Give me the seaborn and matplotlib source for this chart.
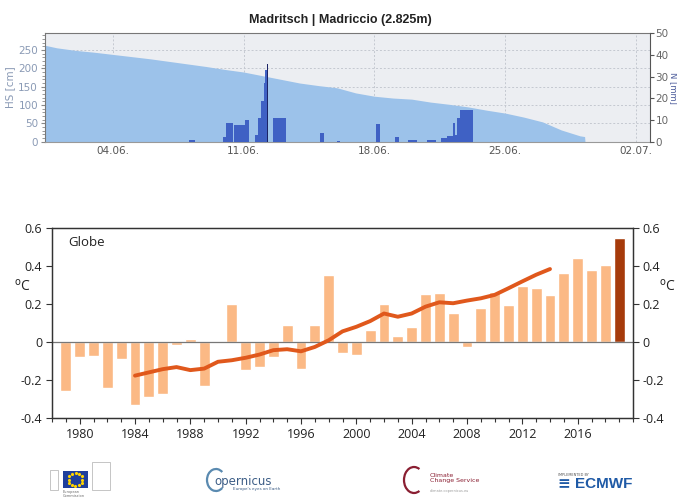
import numpy as np
import pandas as pd
import matplotlib
matplotlib.use("Agg")
import matplotlib.pyplot as plt
import matplotlib.ticker as mticker
import matplotlib.dates as mdates
from matplotlib.patches import Rectangle, Arc
import seaborn as sns

# --------------------------- top panel data (Madritsch station, June 2019) ---------------------------
hs_time = ["2019-05-31 00:00"] + ["2019-06-%02d 00:00" % d for d in range(1, 30)] + \
          ["2019-06-29 06:00", "2019-06-29 06:30"]
hs_cm = [267, 256, 249, 244, 238, 232, 226, 219, 212, 205, 197, 190, 180, 170, 160, 153,
         147, 133, 124, 119, 116, 108, 102, 95, 86, 78, 67, 54, 32, 16, 14, 0]

precip_start = ["2019-06-08 02:00", "2019-06-09 21:00", "2019-06-10 02:00", "2019-06-10 12:00",
                "2019-06-11 02:00", "2019-06-11 15:00", "2019-06-11 19:00", "2019-06-11 22:00",
                "2019-06-12 02:00", "2019-06-12 04:00", "2019-06-12 06:00", "2019-06-12 14:00",
                "2019-06-15 02:00", "2019-06-16 00:00", "2019-06-18 02:00", "2019-06-19 02:00",
                "2019-06-19 19:00", "2019-06-20 19:00", "2019-06-21 14:00", "2019-06-21 21:00",
                "2019-06-22 05:00", "2019-06-22 07:00", "2019-06-22 10:00", "2019-06-22 14:00"]
precip_end = ["2019-06-08 10:00", "2019-06-10 02:00", "2019-06-10 10:00", "2019-06-11 02:00",
              "2019-06-11 07:00", "2019-06-11 19:00", "2019-06-11 22:00", "2019-06-12 02:00",
              "2019-06-12 04:00", "2019-06-12 06:00", "2019-06-12 08:00", "2019-06-13 07:00",
              "2019-06-15 07:00", "2019-06-16 04:00", "2019-06-18 07:00", "2019-06-19 07:00",
              "2019-06-20 07:00", "2019-06-21 07:00", "2019-06-21 21:00", "2019-06-22 05:00",
              "2019-06-22 07:00", "2019-06-22 10:00", "2019-06-22 14:00", "2019-06-23 07:00"]
precip_mm = [0.6, 2, 8.6, 7.7, 10, 3, 11, 19, 27, 33, 36, 11,
             4, 0.5, 8, 2, 1, 1, 1.8, 2.6, 8.6, 3, 11, 14.6]

# --------------------------- bottom panel data (global temperature anomaly) ---------------------------
years = list(range(1979, 2020))
anomaly = [-0.256, -0.078, -0.073, -0.243, -0.090, -0.330, -0.290, -0.273, -0.014, 0.014,
           -0.230, -0.007, 0.200, -0.148, -0.129, -0.080, 0.087, -0.141, 0.092, 0.353,
           -0.057, -0.071, 0.062, 0.198, 0.034, 0.080, 0.253, 0.257, 0.150, -0.025,
           0.181, 0.262, 0.195, 0.297, 0.285, 0.248, 0.363, 0.441, 0.381, 0.404, 0.549]
mean_years = list(range(1984, 2015))
mean_vals = [-0.177, -0.160, -0.143, -0.132, -0.148, -0.140, -0.104, -0.096, -0.083, -0.066,
             -0.043, -0.038, -0.049, -0.026, 0.009, 0.056, 0.080, 0.110, 0.150, 0.133,
             0.150, 0.186, 0.209, 0.204, 0.218, 0.230, 0.248, 0.283, 0.319, 0.354, 0.384]

sns.set_style("white")
plt.rcParams["font.family"] = ["DejaVu Sans"]
plt.rcParams["axes.unicode_minus"] = False

W, H = 677, 497
fig = plt.figure(figsize=(W / 100, H / 100), dpi=100)

# --------------------------- top panel ---------------------------
ax1 = fig.add_axes([45 / W, 1 - 141.7 / H, 605 / W, 108.2 / H])
ax1.set_facecolor("#eceef2")
ax1.fill_between(pd.to_datetime(hs_time), hs_cm, 0, color="#9cc2ea", lw=0, zorder=2)
ax1.set_ylim(0, 295)
ax1.set_xlim(pd.Timestamp("2019-05-31 09:00"), pd.Timestamp("2019-07-02 18:00"))
ax1.set_yticks(range(0, 251, 50))
ax1.yaxis.set_minor_locator(mticker.MultipleLocator(10))
ax1.set_xticks(pd.to_datetime(["2019-06-04", "2019-06-11", "2019-06-18", "2019-06-25", "2019-07-02"]))
ax1.xaxis.set_major_formatter(mdates.DateFormatter("%d.%m."))
ax1.grid(True, color="#c4c8d0", ls=(0, (2, 2)), lw=0.7, zorder=1)
ax1.set_axisbelow(True)
ax1.tick_params(axis="y", which="major", left=True, length=3, color="#888", labelsize=7.5,
                labelcolor="#8a9ab5", pad=2)
ax1.tick_params(axis="y", which="minor", left=True, length=2, color="#888")
ax1.tick_params(axis="x", length=0, labelsize=7.5, labelcolor="#555", pad=3)
ax1.set_ylabel("HS [cm]", fontsize=7.5, color="#8a9ab5", labelpad=2)
for s in ["left", "top"]:
    ax1.spines[s].set_color("#777")
    ax1.spines[s].set_linewidth(0.8)
ax1.spines["bottom"].set_color("#999")
ax1.spines["right"].set_visible(False)

ax1r = ax1.twinx()
ps = pd.to_datetime(precip_start)
pe = pd.to_datetime(precip_end)
widths = (pe - ps) / pd.Timedelta(days=1)
bar_cols = ["#1c2466" if v == max(precip_mm) else "#3f61c4" for v in precip_mm]
ax1r.bar(ps, precip_mm, width=widths, align="edge", color=bar_cols, lw=0, zorder=3)
ax1r.set_ylim(0, 50)
ax1r.set_yticks(range(0, 51, 10))
ax1r.tick_params(axis="y", right=True, length=3, color="#555", labelsize=7.5, labelcolor="#666", pad=1)
ax1r.spines["right"].set_color("#555")
for s in ["left", "top", "bottom"]:
    ax1r.spines[s].set_visible(False)
fig.text(673 / W, 1 - 88 / H, "N [mm]", fontsize=6, color="#4a5a9a", rotation=270,
         ha="center", va="center")

fig.text(0.503, 1 - 20 / H, "Madritsch | Madriccio (2.825m)", ha="center", va="center",
         fontsize=9, fontweight="bold", family="Liberation Sans", color="#222")

# --------------------------- bottom panel ---------------------------
ax2 = fig.add_axes([52 / W, 1 - 418 / H, 581 / W, 190 / H])
df = pd.DataFrame({"year": years, "anomaly": anomaly})
df["kind"] = ["latest" if y == 2019 else "past" for y in years]
sns.barplot(data=df, x="year", y="anomaly", hue="kind", native_scale=True, width=0.78,
            palette={"past": "#fbb985", "latest": "#a63b0b"}, saturation=1, legend=False,
            ax=ax2, zorder=2)
ax2.axhline(0, color="#777", lw=0.9, zorder=2.5)
sns.lineplot(x=mean_years, y=mean_vals, color="#e0581c", lw=2.8, ax=ax2, zorder=3)
ax2.set_xlim(1978, 2020)
ax2.set_ylim(-0.4, 0.6)
ax2.set_xticks(range(1980, 2017, 4))
ax2.set_xticklabels([str(y) for y in range(1980, 2017, 4)])
ax2.xaxis.set_minor_locator(mticker.MultipleLocator(1))
yt = [-0.4, -0.2, 0, 0.2, 0.4, 0.6]
ytl = ["-0.4", "-0.2", "0", "0.2", "0.4", "0.6"]
ax2.set_yticks(yt)
ax2.set_yticklabels(ytl)
ax2.set_xlabel("")
ax2.set_ylabel("")
ax2.tick_params(axis="both", which="major", direction="out", length=4, width=0.8,
                color="#333", labelsize=9, labelcolor="#222", pad=3, left=True, bottom=True)
ax2.tick_params(axis="x", which="minor", direction="out", length=3, width=0.8, color="#333",
                bottom=True)
for lab in ax2.get_xticklabels() + ax2.get_yticklabels():
    lab.set_family("Open Sans")
for s in ax2.spines.values():
    s.set_color("#333")
    s.set_linewidth(0.9)

ax2r = ax2.twinx()
ax2r.set_ylim(-0.4, 0.6)
ax2r.set_yticks(yt)
ax2r.set_yticklabels(ytl)
ax2r.tick_params(axis="y", direction="out", length=4, width=0.8, color="#333", labelsize=9,
                 labelcolor="#222", pad=3, right=True)
for lab in ax2r.get_yticklabels():
    lab.set_family("Open Sans")
for s in ax2r.spines.values():
    s.set_color("#333")
    s.set_linewidth(0.9)

ax2.text(0.028, 0.925, "Globe", transform=ax2.transAxes, fontsize=9.5, family="Open Sans",
         color="#222", va="center")
for xp in (14 / W, 659 / W):
    fig.text(xp, 1 - 287 / H, r"$^{\rm o}$C", fontsize=10, family="Open Sans", color="#222",
             va="center", ha="left")

# --------------------------- logos row ---------------------------
ax_eu = fig.add_axes([63 / W, 1 - 488 / H, 25 / W, 17 / H])
ax_eu.set_facecolor("#1f3f9c")
ang = np.linspace(0, 2 * np.pi, 13)[:-1]
ax_eu.scatter(0.5 + 0.28 * np.cos(ang), 0.5 + 0.36 * np.sin(ang), s=2, marker="*", color="#ffd400")
ax_eu.set_xlim(0, 1)
ax_eu.set_ylim(0, 1)
ax_eu.set_xticks([])
ax_eu.set_yticks([])
for s in ax_eu.spines.values():
    s.set_visible(False)
fig.add_artist(Rectangle((50 / W, 1 - 490 / H), 8 / W, 20 / H, transform=fig.transFigure,
                         fill=False, ec="#bbb", lw=0.6))
fig.add_artist(Rectangle((92 / W, 1 - 490 / H), 18 / W, 28 / H, transform=fig.transFigure,
                         fill=False, ec="#bbb", lw=0.6))
fig.text(63 / W, 1 - 490 / H, "European\nCommission", fontsize=2.5, color="#666", va="top",
         linespacing=1.0)

fig.add_artist(Arc((216 / W, 1 - 480 / H), 18 / W, 22 / H, theta1=60, theta2=300,
                   transform=fig.transFigure, color="#5a8ab0", lw=1.6))
fig.text(214 / W, 1 - 481 / H, "opernicus", fontsize=8.5, color="#3c5d86", va="center")
fig.text(233 / W, 1 - 489 / H, "Europe's eyes on Earth", fontsize=3, color="#3c5d86", va="center")

fig.add_artist(Arc((414 / W, 1 - 480 / H), 20 / W, 26 / H, theta1=70, theta2=290,
                   transform=fig.transFigure, color="#8a1f32", lw=1.6))
fig.text(430 / W, 1 - 478 / H, "Climate\nChange Service", fontsize=4.5, color="#8a1f32",
         va="center", linespacing=1.1)
fig.text(430 / W, 1 - 491 / H, "climate.copernicus.eu", fontsize=2.5, color="#999", va="center")

fig.text(558 / W, 1 - 475 / H, "IMPLEMENTED BY", fontsize=2.5, color="#555", va="center")
fig.text(575 / W, 1 - 484 / H, "ECMWF", fontsize=11, fontweight="bold", color="#1f5aa6",
         va="center", family="Liberation Sans")
fig.text(557 / W, 1 - 484 / H, "\u2261", fontsize=11, fontweight="bold", color="#1f5aa6",
         va="center")

fig.savefig("out.png", dpi=100)
